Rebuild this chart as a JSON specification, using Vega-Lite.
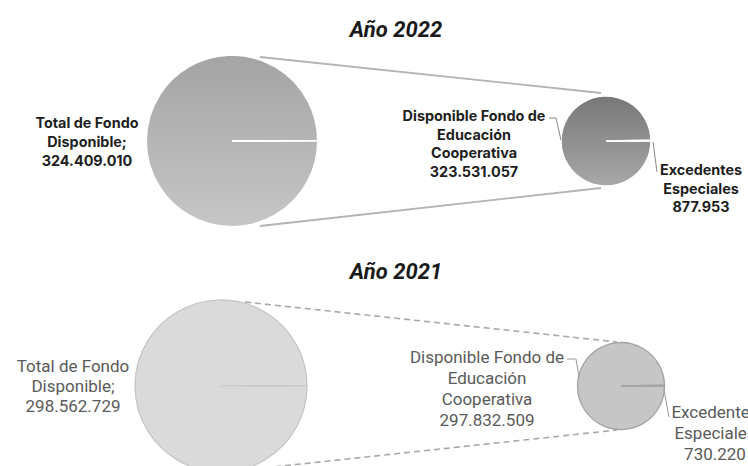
{
  "$schema": "https://vega.github.io/schema/vega-lite/v6.json",
  "width": 748,
  "height": 466,
  "autosize": {"type": "fit", "contains": "padding"},
  "padding": 0,
  "background": "white",
  "config": {"view": {"stroke": null}},
  "datasets": {
    "pies": [
      {"year": "2022", "grupo": "Total", "categoria": "Total de Fondo Disponible", "valor": 324409010, "etiqueta": "Total de Fondo\nDisponible;\n324.409.010"},
      {"year": "2022", "grupo": "Desglose", "categoria": "Disponible Fondo de Educación Cooperativa", "valor": 323531057, "etiqueta": "Disponible Fondo de\nEducación\nCooperativa\n323.531.057"},
      {"year": "2022", "grupo": "Desglose", "categoria": "Excedentes Especiales", "valor": 877953, "etiqueta": "Excedentes\nEspeciales\n877.953"},
      {"year": "2021", "grupo": "Total", "categoria": "Total de Fondo Disponible", "valor": 298562729, "etiqueta": "Total de Fondo\nDisponible;\n298.562.729"},
      {"year": "2021", "grupo": "Desglose", "categoria": "Disponible Fondo de Educación Cooperativa", "valor": 297832509, "etiqueta": "Disponible Fondo de\nEducación\nCooperativa\n297.832.509"},
      {"year": "2021", "grupo": "Desglose", "categoria": "Excedentes Especiales", "valor": 730220, "etiqueta": "Excedentes\nEspeciales\n730.220"}
    ],
    "titulos": [
      {"year": "2022", "titulo": "Año 2022"},
      {"year": "2021", "titulo": "Año 2021"}
    ]
  },
  "layer": [
    {
      "data": {"name": "pies"},
      "transform": [{"filter": "datum.year == '2022'"}],
      "encoding": {
        "x": {"field": "grupo", "type": "nominal", "scale": {"type": "point", "domain": ["Total", "Desglose"], "range": [232, 606], "padding": 0}, "axis": null},
        "y": {"field": "year", "type": "nominal", "scale": {"type": "point", "domain": ["2022", "2021"], "range": [141, 386], "padding": 0}, "axis": null}
      },
      "layer": [
        {
          "transform": [{"filter": "datum.grupo == 'Total'"}],
          "mark": {"type": "rule", "color": "#b3b3b3", "strokeWidth": 1.8, "xOffset": 28, "yOffset": -84, "x2Offset": -5, "y2Offset": -48},
          "encoding": {"x2": {"datum": "Desglose"}, "y2": {"field": "year"}}
        },
        {
          "transform": [{"filter": "datum.grupo == 'Total'"}],
          "mark": {"type": "rule", "color": "#b3b3b3", "strokeWidth": 1.8, "xOffset": 28, "yOffset": 85, "x2Offset": -5, "y2Offset": 47},
          "encoding": {"x2": {"datum": "Desglose"}, "y2": {"field": "year"}}
        },
        {
          "transform": [{"filter": "datum.grupo == 'Total'"}],
          "mark": {"type": "arc", "radius": 86, "stroke": "white", "strokeWidth": 2,
            "fill": {"gradient": "linear", "x1": 0, "y1": 0, "x2": 0, "y2": 1, "stops": [{"offset": 0, "color": "#a4a4a4"}, {"offset": 1, "color": "#c6c6c6"}]}},
          "encoding": {
            "theta": {"field": "valor", "type": "quantitative", "stack": true, "scale": {"range": [1.5708, 7.852]}},
            "detail": {"field": "categoria"}
          }
        },
        {
          "transform": [{"filter": "datum.grupo == 'Desglose'"}],
          "mark": {"type": "arc", "radius": 45, "stroke": "white", "strokeWidth": 1.5,
            "fill": {"gradient": "linear", "x1": 0, "y1": 0, "x2": 0, "y2": 1, "stops": [{"offset": 0, "color": "#777777"}, {"offset": 1, "color": "#a8a8a8"}]}},
          "encoding": {
            "theta": {"field": "valor", "type": "quantitative", "stack": true, "scale": {"range": [1.5708, 7.852]}},
            "detail": {"field": "categoria"}
          }
        },
        {
          "transform": [{"filter": "datum.categoria == 'Disponible Fondo de Educación Cooperativa'"}],
          "mark": {"type": "rule", "color": "#888888", "strokeWidth": 1, "xOffset": -57, "yOffset": -23, "x2Offset": -50, "y2Offset": -23},
          "encoding": {"x2": {"field": "grupo"}, "y2": {"field": "year"}}
        },
        {
          "transform": [{"filter": "datum.categoria == 'Disponible Fondo de Educación Cooperativa'"}],
          "mark": {"type": "rule", "color": "#888888", "strokeWidth": 1, "xOffset": -50, "yOffset": -23, "x2Offset": -45, "y2Offset": -1},
          "encoding": {"x2": {"field": "grupo"}, "y2": {"field": "year"}}
        },
        {
          "transform": [{"filter": "datum.categoria == 'Excedentes Especiales'"}],
          "mark": {"type": "rule", "color": "#888888", "strokeWidth": 1, "xOffset": 47, "yOffset": 1, "x2Offset": 51, "y2Offset": 31},
          "encoding": {"x2": {"field": "grupo"}, "y2": {"field": "year"}}
        },
        {
          "transform": [{"filter": "datum.categoria == 'Total de Fondo Disponible'"}],
          "mark": {"type": "text", "font": "Inter", "fontWeight": "bold", "fontSize": 14.4, "color": "#1e1e1e", "align": "center", "baseline": "middle", "lineBreak": "\n", "lineHeight": 19, "xOffset": -145, "yOffset": -17},
          "encoding": {"text": {"field": "etiqueta"}}
        },
        {
          "transform": [{"filter": "datum.categoria == 'Disponible Fondo de Educación Cooperativa'"}],
          "mark": {"type": "text", "font": "Inter", "fontWeight": "bold", "fontSize": 14.4, "color": "#1e1e1e", "align": "center", "baseline": "middle", "lineBreak": "\n", "lineHeight": 18.7, "xOffset": -132, "yOffset": -24},
          "encoding": {"text": {"field": "etiqueta"}}
        },
        {
          "transform": [{"filter": "datum.categoria == 'Excedentes Especiales'"}],
          "mark": {"type": "text", "font": "Inter", "fontWeight": "bold", "fontSize": 14.4, "color": "#1e1e1e", "align": "center", "baseline": "middle", "lineBreak": "\n", "lineHeight": 18.5, "xOffset": 95, "yOffset": 30},
          "encoding": {"text": {"field": "etiqueta"}}
        },
        {
          "data": {"name": "titulos"},
          "transform": [{"filter": "datum.year == '2022'"}],
          "mark": {"type": "text", "font": "Roboto", "fontWeight": "bold", "fontStyle": "italic", "fontSize": 22, "color": "#1a1a1a", "align": "center", "baseline": "middle", "xOffset": 164, "yOffset": -111},
          "encoding": {"x": {"datum": "Total"}, "text": {"field": "titulo"}}
        }
      ]
    },
    {
      "data": {"name": "pies"},
      "transform": [{"filter": "datum.year == '2021'"}],
      "encoding": {
        "x": {"field": "grupo", "type": "nominal", "scale": {"type": "point", "domain": ["Total", "Desglose"], "range": [221, 621], "padding": 0}, "axis": null},
        "y": {"field": "year", "type": "nominal", "scale": {"type": "point", "domain": ["2022", "2021"], "range": [141, 386], "padding": 0}, "axis": null}
      },
      "layer": [
        {
          "transform": [{"filter": "datum.grupo == 'Total'"}],
          "mark": {"type": "rule", "color": "#a8a8a8", "strokeWidth": 1.6, "strokeDash": [6, 4], "xOffset": 24, "yOffset": -84, "x2Offset": -4, "y2Offset": -44},
          "encoding": {"x2": {"datum": "Desglose"}, "y2": {"field": "year"}}
        },
        {
          "transform": [{"filter": "datum.grupo == 'Total'"}],
          "mark": {"type": "rule", "color": "#a8a8a8", "strokeWidth": 1.6, "strokeDash": [6, 4], "xOffset": 24, "yOffset": 84, "x2Offset": -4, "y2Offset": 44},
          "encoding": {"x2": {"datum": "Desglose"}, "y2": {"field": "year"}}
        },
        {
          "transform": [{"filter": "datum.grupo == 'Total'"}],
          "mark": {"type": "arc", "radius": 86, "stroke": "#c4c4c4", "strokeWidth": 1.2, "fill": "#dadada"},
          "encoding": {
            "theta": {"field": "valor", "type": "quantitative", "stack": true, "scale": {"range": [1.5708, 7.852]}},
            "detail": {"field": "categoria"}
          }
        },
        {
          "transform": [{"filter": "datum.grupo == 'Desglose'"}],
          "mark": {"type": "arc", "radius": 43.5, "stroke": "#a3a3a3", "strokeWidth": 1.3, "fill": "#c6c6c6"},
          "encoding": {
            "theta": {"field": "valor", "type": "quantitative", "stack": true, "scale": {"range": [1.5708, 7.852]}},
            "detail": {"field": "categoria"}
          }
        },
        {
          "transform": [{"filter": "datum.categoria == 'Disponible Fondo de Educación Cooperativa'"}],
          "mark": {"type": "rule", "color": "#999999", "strokeWidth": 1, "xOffset": -54, "yOffset": -27, "x2Offset": -45, "y2Offset": -27},
          "encoding": {"x2": {"field": "grupo"}, "y2": {"field": "year"}}
        },
        {
          "transform": [{"filter": "datum.categoria == 'Disponible Fondo de Educación Cooperativa'"}],
          "mark": {"type": "rule", "color": "#999999", "strokeWidth": 1, "xOffset": -45, "yOffset": -27, "x2Offset": -42, "y2Offset": -9},
          "encoding": {"x2": {"field": "grupo"}, "y2": {"field": "year"}}
        },
        {
          "transform": [{"filter": "datum.categoria == 'Excedentes Especiales'"}],
          "mark": {"type": "rule", "color": "#999999", "strokeWidth": 1, "xOffset": 43, "yOffset": 4, "x2Offset": 48, "y2Offset": 31},
          "encoding": {"x2": {"field": "grupo"}, "y2": {"field": "year"}}
        },
        {
          "transform": [{"filter": "datum.categoria == 'Total de Fondo Disponible'"}],
          "mark": {"type": "text", "font": "Roboto", "fontSize": 17, "color": "#5a5a5a", "align": "center", "baseline": "middle", "lineBreak": "\n", "lineHeight": 20, "xOffset": -148, "yOffset": -19},
          "encoding": {"text": {"field": "etiqueta"}}
        },
        {
          "transform": [{"filter": "datum.categoria == 'Disponible Fondo de Educación Cooperativa'"}],
          "mark": {"type": "text", "font": "Roboto", "fontSize": 17, "color": "#5a5a5a", "align": "center", "baseline": "middle", "lineBreak": "\n", "lineHeight": 21, "xOffset": -134, "yOffset": -28},
          "encoding": {"text": {"field": "etiqueta"}}
        },
        {
          "transform": [{"filter": "datum.categoria == 'Excedentes Especiales'"}],
          "mark": {"type": "text", "font": "Roboto", "fontSize": 17, "color": "#5a5a5a", "align": "center", "baseline": "middle", "lineBreak": "\n", "lineHeight": 21, "xOffset": 94, "yOffset": 27},
          "encoding": {"text": {"field": "etiqueta"}}
        },
        {
          "data": {"name": "titulos"},
          "transform": [{"filter": "datum.year == '2021'"}],
          "mark": {"type": "text", "font": "Roboto", "fontWeight": "bold", "fontStyle": "italic", "fontSize": 22, "color": "#1a1a1a", "align": "center", "baseline": "middle", "xOffset": 175, "yOffset": -114},
          "encoding": {"x": {"datum": "Total"}, "text": {"field": "titulo"}}
        }
      ]
    }
  ],
  "resolve": {"scale": {"x": "independent", "theta": "independent"}}
}
